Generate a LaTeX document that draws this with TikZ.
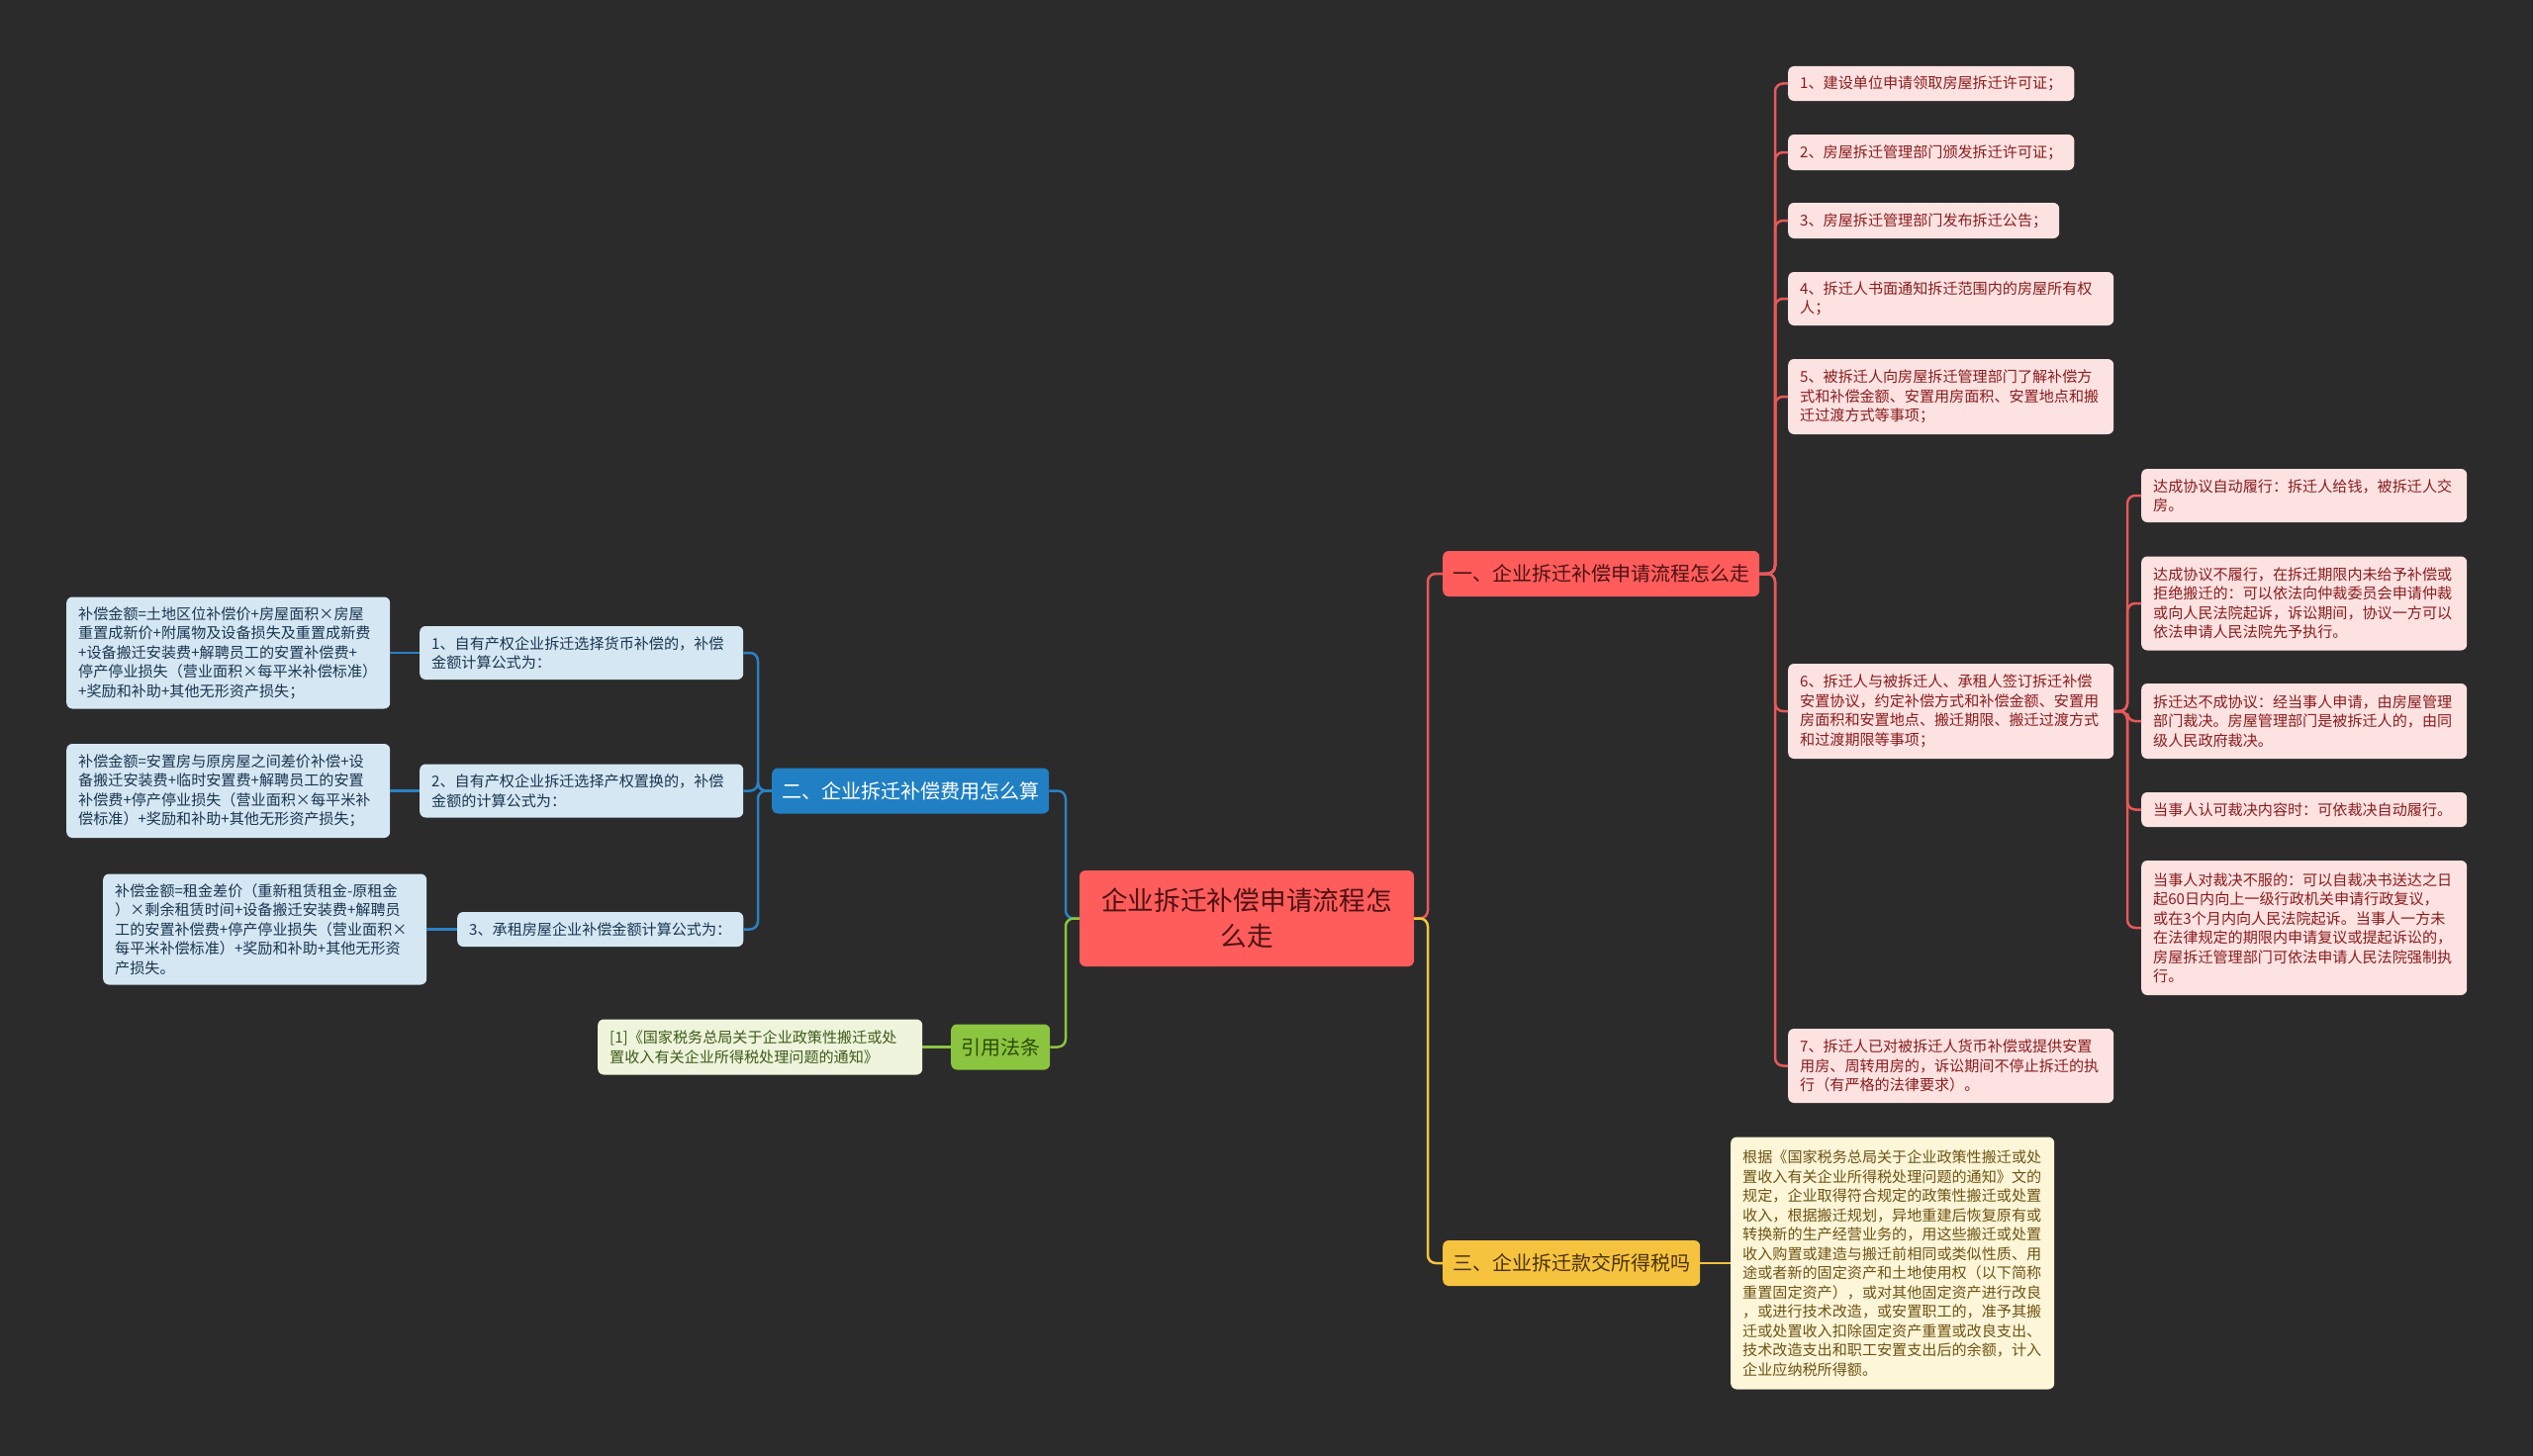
\documentclass[tikz,border=0pt]{standalone}
\usepackage{fontspec}
\setmainfont{Noto Sans CJK SC}
\definecolor{bg}{HTML}{2B2B2B}
\definecolor{redF}{HTML}{FF5C5C}
\definecolor{redT}{HTML}{4D1212}
\definecolor{pinkF}{HTML}{FDE2E2}
\definecolor{pinkT}{HTML}{8A1C1C}
\definecolor{redL}{HTML}{E8585A}
\definecolor{blueF}{HTML}{2180C4}
\definecolor{blueLF}{HTML}{D4E7F3}
\definecolor{blueT}{HTML}{1B3550}
\definecolor{blueL}{HTML}{2A82C5}
\definecolor{greenF}{HTML}{8BC53F}
\definecolor{greenT}{HTML}{2E4A0E}
\definecolor{greenLF}{HTML}{EEF5DC}
\definecolor{greenLT}{HTML}{3E5A17}
\definecolor{yelF}{HTML}{F6C33E}
\definecolor{yelT}{HTML}{4A3208}
\definecolor{yelLF}{HTML}{FEF6D8}
\definecolor{yelLT}{HTML}{6E5314}
\begin{document}
\begin{tikzpicture}[x=1pt,y=-1pt,
  box/.style={rounded corners=6pt, inner ysep=0pt, anchor=west},
  leaf/.style={box, inner xsep=12pt, align=left, font=\fontsize{15.1}{19.5}\selectfont},
  leafR/.style={leaf, fill=pinkF, text=pinkT},
  leafB/.style={leaf, fill=blueLF, text=blueT},
  leafG/.style={leaf, fill=greenLF, text=greenLT},
  leafY/.style={leaf, fill=yelLF, text=yelLT},
  br/.style={box, inner xsep=10pt, minimum height=46pt, font=\fontsize{20}{24}\selectfont},
  con/.style={line width=2.5pt, rounded corners=8pt},
  conR/.style={con, draw=redL},
  conB/.style={con, draw=blueL},
  conG/.style={con, draw=greenF},
  conY/.style={con, draw=yelF}]
\fill[bg] (0,0) rectangle (2560,1472);
\useasboundingbox (0,0) rectangle (2560,1472);

% spine coordinates
\coordinate (sL) at (1077,0);
\coordinate (sC) at (1443,0);
\coordinate (sR) at (1794,0);
\coordinate (sS) at (2150,0);
\coordinate (sB) at (766,0);

% root
\node[rounded corners=6pt, fill=redF, text=redT, minimum width=338pt, minimum height=97pt, align=center, font=\fontsize{26.7}{36}\selectfont] (root) at (1260,928.5) {企业拆迁补偿申请流程怎\\么走};

% branches
\node[br, fill=redF, text=redT] (b1) at (1458,580) {一、企业拆迁补偿申请流程怎么走};
\node[br, fill=blueF, text=white] (b2) at (780,799.5) {二、企业拆迁补偿费用怎么算};
\node[br, fill=yelF, text=yelT] (b3) at (1458,1277) {三、企业拆迁款交所得税吗};
\node[br, fill=greenF, text=greenT] (b4) at (961,1058.5) {引用法条};

% red leaves
\node[leafR, minimum height=35pt] (L1) at (1807,84.5) {1、建设单位申请领取房屋拆迁许可证；};
\node[leafR, minimum height=36pt] (L2) at (1807,154) {2、房屋拆迁管理部门颁发拆迁许可证；};
\node[leafR, minimum height=36pt] (L3) at (1807,223) {3、房屋拆迁管理部门发布拆迁公告；};
\node[leafR, minimum height=54pt, text width=305pt] (L4) at (1807,302) {4、拆迁人书面通知拆迁范围内的房屋所有权\\人；};
\node[leafR, minimum height=76pt, text width=305pt] (L5) at (1807,401) {5、被拆迁人向房屋拆迁管理部门了解补偿方\\式和补偿金额、安置用房面积、安置地点和搬\\迁过渡方式等事项；};
\node[leafR, minimum height=96pt, text width=305pt] (L6) at (1807,719) {6、拆迁人与被拆迁人、承租人签订拆迁补偿\\安置协议，约定补偿方式和补偿金额、安置用\\房面积和安置地点、搬迁期限、搬迁过渡方式\\和过渡期限等事项；};
\node[leafR, minimum height=75pt, text width=305pt] (L7) at (1807,1077.5) {7、拆迁人已对被拆迁人货币补偿或提供安置\\用房、周转用房的，诉讼期间不停止拆迁的执\\行（有严格的法律要求）。};

% sub leaves of L6
\node[leafR, minimum height=54pt, text width=305pt] (S1) at (2164,501) {达成协议自动履行：拆迁人给钱，被拆迁人交\\房。};
\node[leafR, minimum height=95pt, text width=305pt] (S2) at (2164,610) {达成协议不履行，在拆迁期限内未给予补偿或\\拒绝搬迁的：可以依法向仲裁委员会申请仲裁\\或向人民法院起诉，诉讼期间，协议一方可以\\依法申请人民法院先予执行。};
\node[leafR, minimum height=76pt, text width=305pt] (S3) at (2164,729) {拆迁达不成协议：经当事人申请，由房屋管理\\部门裁决。房屋管理部门是被拆迁人的，由同\\级人民政府裁决。};
\node[leafR, minimum height=35pt, text width=305pt] (S4) at (2164,818.5) {当事人认可裁决内容时：可依裁决自动履行。};
\node[leafR, minimum height=136pt, text width=305pt] (S5) at (2164,938) {当事人对裁决不服的：可以自裁决书送达之日\\起60日内向上一级行政机关申请行政复议，\\或在3个月内向人民法院起诉。当事人一方未\\在法律规定的期限内申请复议或提起诉讼的，\\房屋拆迁管理部门可依法申请人民法院强制执\\行。};

% blue leaves
\node[leafB, minimum height=54pt, text width=303pt] (B1) at (424,660) {1、自有产权企业拆迁选择货币补偿的，补偿\\金额计算公式为：};
\node[leafB, minimum height=54pt, text width=303pt] (B2) at (424,799.5) {2、自有产权企业拆迁选择产权置换的，补偿\\金额的计算公式为：};
\node[leafB, minimum height=35pt] (B3) at (462,939.5) {3、承租房屋企业补偿金额计算公式为：};
\node[leafB, minimum height=113pt, text width=303pt] (BB1) at (67,660) {补偿金额=土地区位补偿价+房屋面积×房屋\\重置成新价+附属物及设备损失及重置成新费\\+设备搬迁安装费+解聘员工的安置补偿费+\\停产停业损失（营业面积×每平米补偿标准）\\+奖励和补助+其他无形资产损失；};
\node[leafB, minimum height=95pt, text width=303pt] (BB2) at (67,799.5) {补偿金额=安置房与原房屋之间差价补偿+设\\备搬迁安装费+临时安置费+解聘员工的安置\\补偿费+停产停业损失（营业面积×每平米补\\偿标准）+奖励和补助+其他无形资产损失；};
\node[leafB, minimum height=112pt, text width=303pt] (BB3) at (104,939.5) {补偿金额=租金差价（重新租赁租金-原租金\\）×剩余租赁时间+设备搬迁安装费+解聘员\\工的安置补偿费+停产停业损失（营业面积×\\每平米补偿标准）+奖励和补助+其他无形资\\产损失。};

% green leaf
\node[leafG, minimum height=56pt, text width=304pt] (R1) at (604,1058.5) {[1]《国家税务总局关于企业政策性搬迁或处\\置收入有关企业所得税处理问题的通知》};

% yellow leaf
\node[leafY, minimum height=255pt, text width=303pt] (Y1) at (1749,1277) {根据《国家税务总局关于企业政策性搬迁或处\\置收入有关企业所得税处理问题的通知》文的\\规定，企业取得符合规定的政策性搬迁或处置\\收入，根据搬迁规划，异地重建后恢复原有或\\转换新的生产经营业务的，用这些搬迁或处置\\收入购置或建造与搬迁前相同或类似性质、用\\途或者新的固定资产和土地使用权（以下简称\\重置固定资产），或对其他固定资产进行改良\\，或进行技术改造，或安置职工的，准予其搬\\迁或处置收入扣除固定资产重置或改良支出、\\技术改造支出和职工安置支出后的余额，计入\\企业应纳税所得额。};

% root connectors
\draw[conR] (root.east) -- (root.east -| sC) |- (b1.west);
\draw[conY] (root.east) -- (root.east -| sC) |- (b3.west);
\draw[conB] (root.west) -- (root.west -| sL) |- (b2.east);
\draw[conG] (root.west) -- (root.west -| sL) |- (b4.east);

% red branch
\foreach \n in {L1,L2,L3,L4,L5,L6,L7}
  \draw[conR] (b1.east) -- (b1.east -| sR) |- (\n.west);
\foreach \n in {S1,S2,S3,S4,S5}
  \draw[conR] (L6.east) -- (L6.east -| sS) |- (\n.west);

% blue branch
\foreach \n in {B1,B2,B3}
  \draw[conB] (b2.west) -- (b2.west -| sB) |- (\n.east);
\draw[conB] (B1.west) -- (BB1.east);
\draw[conB] (B2.west) -- (BB2.east);
\draw[conB] (B3.west) -- (BB3.east);

% green & yellow
\draw[conG] (b4.west) -- (R1.east);
\draw[conY] (b3.east) -- (Y1.west);
\end{tikzpicture}
\end{document}
